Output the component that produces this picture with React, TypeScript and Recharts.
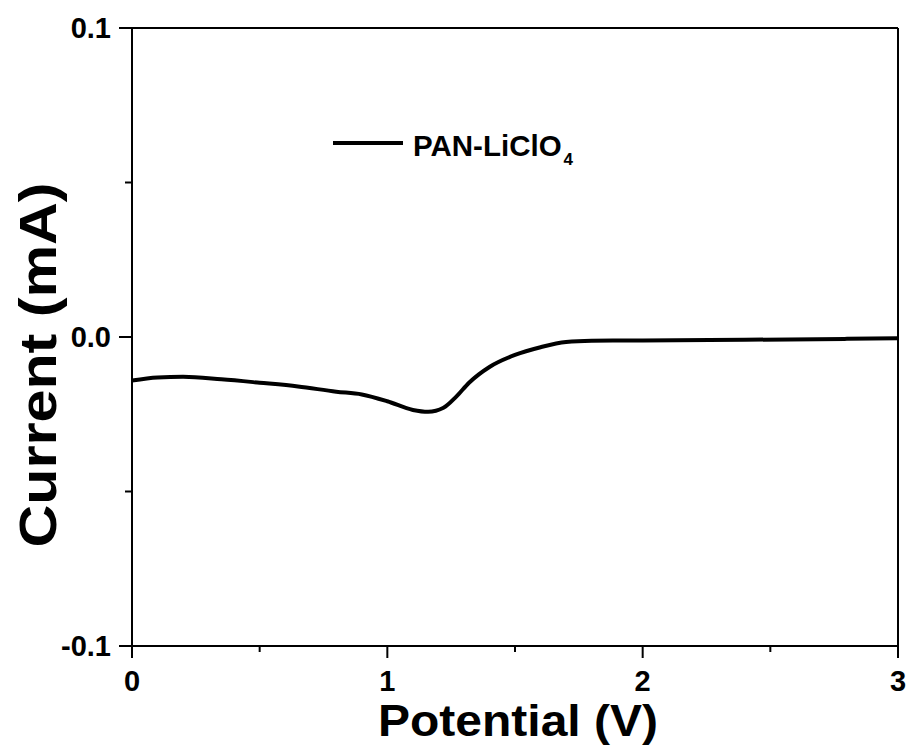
import React from "react";
import {
  LineChart,
  Line,
  XAxis,
  YAxis,
  ReferenceLine,
  Legend,
} from "recharts";

// Linear sweep voltammetry, PAN-LiClO4 electrolyte
const potential = [
  0, 0.1, 0.2, 0.35, 0.5, 0.65, 0.8, 0.9, 1.0, 1.1, 1.16, 1.22, 1.27, 1.32,
  1.4, 1.5, 1.6, 1.7, 1.8, 2.0, 2.4, 2.8, 3.0,
];
const current = [
  -0.0141, -0.0131, -0.0129, -0.0137, -0.0148, -0.016, -0.0177, -0.0186,
  -0.0208, -0.0236, -0.0242, -0.0229, -0.0193, -0.0148, -0.0097, -0.0058,
  -0.0033, -0.0016, -0.0012, -0.0011, -0.0009, -0.0006, -0.0004,
];
const xTicks = [0, 0.5, 1, 1.5, 2, 2.5, 3];
const xLabels = [0, 1, 2, 3];
const yTicks = [-0.1, -0.05, 0, 0.05, 0.1];
const yLabels = [-0.1, 0, 0.1];
const seriesName = "PAN-LiClO4";

const FONT = "'Liberation Sans', Arial, sans-serif";

const data = potential.map((p, i) => ({ potential: p, current: current[i] }));

const XTick = (props: any) => {
  const { x, y, payload } = props;
  const major = xLabels.includes(payload.value);
  return (
    <g>
      <line x1={x} x2={x} y1={y} y2={y + (major ? 12 : 6)} stroke="#000" strokeWidth={2} />
      {major && (
        <text x={x} y={y + 45} textAnchor="middle" fontSize={29} fontWeight="bold" fontFamily={FONT} fill="#000">
          {payload.value}
        </text>
      )}
    </g>
  );
};

const YTick = (props: any) => {
  const { x, y, payload } = props;
  const major = yLabels.some((v) => Math.abs(v - payload.value) < 1e-9);
  return (
    <g>
      <line x1={x - (major ? 13 : 7)} x2={x} y1={y} y2={y} stroke="#000" strokeWidth={2} />
      {major && (
        <text x={x - 21} y={y + 10} textAnchor="end" fontSize={29} fontWeight="bold" fontFamily={FONT} fill="#000">
          {payload.value.toFixed(1)}
        </text>
      )}
    </g>
  );
};

const LegendBox = (props: any) => {
  const entry = props.payload && props.payload[0];
  const color = entry ? entry.color : "#000";
  const name: string = entry ? String(entry.value) : seriesName;
  return (
    <div style={{ display: "flex", alignItems: "flex-start", fontFamily: FONT, fontWeight: "bold" }}>
      <svg width={70} height={8} style={{ marginRight: 10, marginTop: 8 }}>
        <line x1={0} x2={70} y1={4} y2={4} stroke={color} strokeWidth={4} />
      </svg>
      <span style={{ fontSize: 29.5, color: "#000", lineHeight: "30px", whiteSpace: "nowrap" }}>
        {name.slice(0, -1)}
        <sub style={{ fontSize: 17, verticalAlign: "-9px", marginLeft: 2 }}>{name.slice(-1)}</sub>
      </span>
    </div>
  );
};

export default function App() {
  return (
    <div style={{ position: "absolute", left: 0, top: 0, width: 909, height: 746, background: "#fff" }}>
      <LineChart
        width={909}
        height={746}
        data={data}
        margin={{ top: 28, right: 11, bottom: 0, left: 0 }}
      >
        <XAxis
          dataKey="potential"
          type="number"
          domain={[0, 3]}
          ticks={xTicks}
          interval={0}
          height={100}
          tickSize={0}
          tickMargin={0}
          tickLine={false}
          axisLine={{ stroke: "#000", strokeWidth: 2 }}
          tick={<XTick />}
          label={(p: any) => {
            const vb = p.viewBox || {};
            const cx = (vb.x ?? 132) + (vb.width ?? 766) / 2 + 3;
            const cy = (vb.y ?? 646) + 90;
            return (
              <text
                x={cx}
                y={cy}
                textAnchor="middle"
                fontSize={45}
                fontWeight="bold"
                fontFamily={FONT}
                fill="#000"
                textLength={280}
                lengthAdjust="spacingAndGlyphs"
              >
                Potential (V)
              </text>
            );
          }}
        />
        <YAxis
          type="number"
          domain={[-0.1, 0.1]}
          ticks={yTicks}
          interval={0}
          width={132}
          tickSize={0}
          tickMargin={0}
          tickLine={false}
          axisLine={{ stroke: "#000", strokeWidth: 2 }}
          tick={<YTick />}
          label={(p: any) => {
            const vb = p.viewBox || {};
            const cx = 38;
            const cy = (vb.y ?? 28) + (vb.height ?? 618) / 2 + 28;
            return (
              <text
                x={cx}
                y={cy}
                transform={`rotate(-90 ${cx} ${cy})`}
                textAnchor="middle"
                dominantBaseline="central"
                fontSize={52}
                fontWeight="bold"
                fontFamily={FONT}
                fill="#000"
                textLength={365}
                lengthAdjust="spacingAndGlyphs"
              >
                Current (mA)
              </text>
            );
          }}
        />
        <ReferenceLine y={0.1} stroke="#000" strokeWidth={2} ifOverflow="extendDomain" />
        <ReferenceLine x={3} stroke="#000" strokeWidth={2} ifOverflow="extendDomain" />
        <Legend
          layout="vertical"
          verticalAlign="middle"
          align="center"
          wrapperStyle={{ left: 333, top: 131, width: 300 }}
          content={<LegendBox />}
        />
        <Line
          name={seriesName}
          type="monotone"
          dataKey="current"
          stroke="#000"
          strokeWidth={4}
          dot={false}
          activeDot={false}
          isAnimationActive={false}
        />
      </LineChart>
    </div>
  );
}
